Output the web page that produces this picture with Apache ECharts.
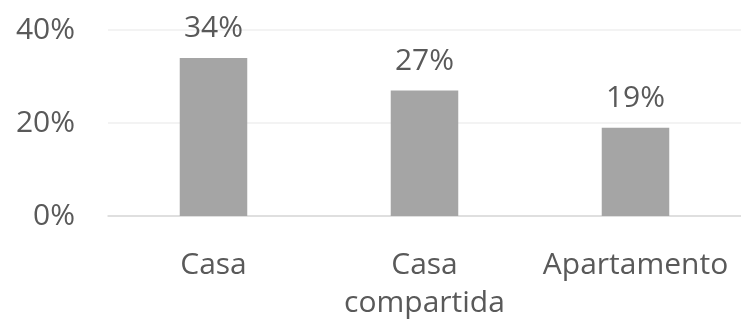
<!DOCTYPE html>
<html><head><meta charset="utf-8">
<script src="https://cdn.jsdelivr.net/npm/echarts@6/dist/echarts.min.js"></script>
<style>html,body{margin:0;padding:0;background:#fff}#c{width:741px;height:322px}</style>
</head><body><div id="c"></div>
<script>
const categories = ["Casa", "Casa\ncompartida", "Apartamento"];
const values = [34, 27, 19];
const yTicks = [0, 20, 40];
const font = "'Open Sans', 'Noto Sans', sans-serif";
const chart = echarts.init(document.getElementById('c'), null, {renderer: 'canvas'});
chart.setOption({
  animation: false,
  grid: {left: 108, right: 0, top: 30, bottom: 105, containLabel: false},
  xAxis: {
    type: 'category', data: categories,
    axisLine: {lineStyle: {color: '#d9d9d9', width: 1.5}},
    axisTick: {show: false},
    axisLabel: {color: '#595959', fontSize: 30, fontFamily: font, margin: 30, lineHeight: 38, interval: 0}
  },
  yAxis: {
    type: 'value', min: yTicks[0], max: yTicks[yTicks.length-1], interval: 20,
    axisLine: {show: false}, axisTick: {show: false},
    splitLine: {lineStyle: {color: '#efefef', width: 1.5}},
    axisLabel: {color: '#595959', fontSize: 30, fontFamily: font, margin: 33, formatter: v => v + '%'}
  },
  series: [{
    type: 'bar', data: values, barWidth: '32%',
    itemStyle: {color: '#a5a5a5'},
    label: {show: true, position: 'top', distance: 14, color: '#595959', fontSize: 30, fontFamily: font, formatter: p => p.value + '%'}
  }]
});
</script></body></html>
